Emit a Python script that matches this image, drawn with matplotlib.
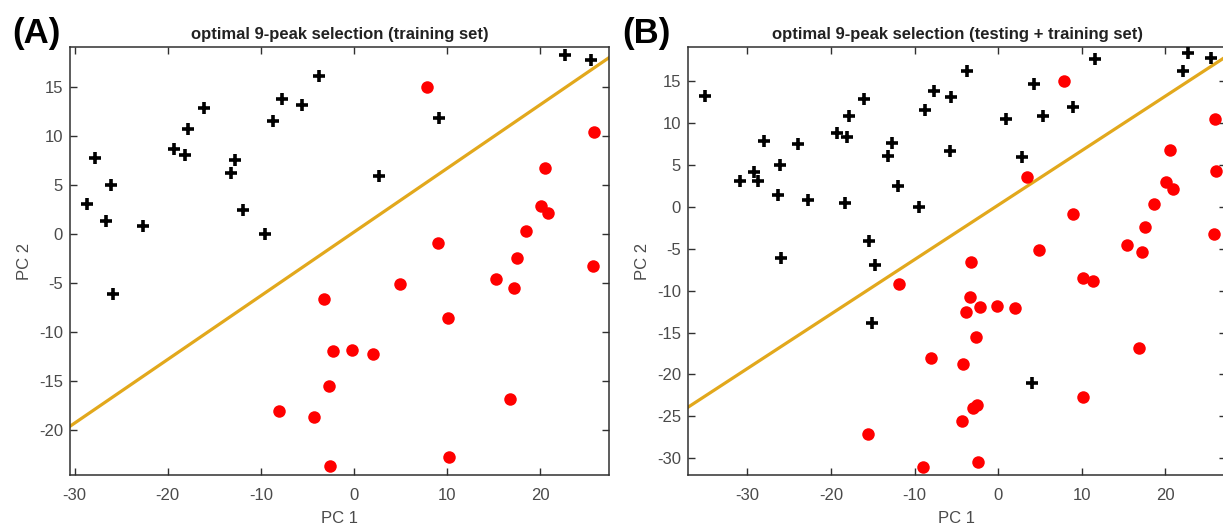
# %%
"""
    PCA scatter of 9-peak selection, training vs testing+training,
    with the linear decision boundary
"""

import matplotlib
matplotlib.use("Agg")
import matplotlib.pyplot as plt
import numpy as np

plt.rcParams["font.family"] = ["Liberation Sans", "DejaVu Sans"]
plt.rcParams["axes.unicode_minus"] = False   # MATLAB style hyphen minus

# %% data

### panel A - training set
A_cross_x = [-28.7, -27.8, -26.1, -26.6, -22.7, -19.3, -18.1, -17.8, -16.1, -13.2, -12.8,
             -11.9, -9.5, -8.7, -7.7, -5.6, -3.7, 9.1, 2.7, 22.7, 25.5, -25.9]
A_cross_y = [3.1, 7.8, 5.0, 1.3, 0.8, 8.7, 8.1, 10.7, 12.9, 6.2, 7.6,
             2.5, 0.0, 11.5, 13.8, 13.2, 16.1, 11.8, 5.9, 18.3, 17.8, -6.1]

A_dot_x = [7.8, 25.8, 20.5, 20.1, 20.8, 18.5, 9.0, 17.5, 25.7, 15.3, 17.2, 4.9,
           -3.2, 10.1, -2.3, -0.2, 2.0, -2.7, 16.8, -4.3, 10.2, -2.6, -8.0]
A_dot_y = [15.0, 10.4, 6.7, 2.9, 2.1, 0.3, -0.9, -2.4, -3.3, -4.6, -5.5, -5.1,
           -6.6, -8.6, -11.9, -11.8, -12.2, -15.5, -16.8, -18.7, -22.8, -23.7, -18.1]

### panel B - testing + training set
B_cross_x = [-35.1, -30.9, -29.2, -28.7, -28.0, -26.1, -26.3, -26.0, -24.0, -22.8, -19.3,
             -18.1, -17.8, -18.3, -16.1, -15.4, -14.7, -13.2, -12.7, -12.0, -9.5, -15.1,
             -3.7, -7.7, -5.7, -8.7, -5.8, 0.9, 4.3, 5.4, 2.8, 9.0, 11.6, 22.7, 22.1, 25.5, 4.1]
B_cross_y = [13.2, 3.1, 4.1, 3.1, 7.8, 5.0, 1.4, -6.1, 7.5, 0.8, 8.8,
             8.3, 10.8, 0.5, 12.9, -4.1, -7.0, 6.1, 7.6, 2.5, 0.0, -13.9,
             16.2, 13.8, 13.1, 11.5, 6.6, 10.5, 14.6, 10.8, 5.9, 11.9, 17.6, 18.3, 16.2, 17.8, -21.0]

B_dot_x = [7.9, 25.9, 20.5, 26.1, 20.1, 20.9, 18.6, 3.5, 9.0, 17.6, 25.8, 15.4, 17.2, 4.9,
           -3.2, 10.1, 11.4, -3.4, -2.2, -0.2, 2.0, -3.8, -2.6, 16.9, -8.0, -4.2, 10.2,
           -3.0, -2.5, -4.3, -2.4, -9.0, -11.9, -15.6]
B_dot_y = [15.0, 10.5, 6.8, 4.3, 2.9, 2.1, 0.3, 3.6, -0.9, -2.4, -3.3, -4.6, -5.4, -5.1,
           -6.6, -8.5, -8.8, -10.8, -11.9, -11.8, -12.1, -12.5, -15.5, -16.8, -18.0, -18.8, -22.7,
           -24.0, -23.7, -25.5, -30.4, -31.1, -9.2, -27.1]

### decision boundary  PC2 = slope*PC1 + intercept
boundary_slope = 0.65
boundary_intercept = 0.2

# %% plotting
W, H = 1223, 527
fig = plt.figure(figsize=(W/100, H/100), dpi=100)

def px_axes(left, top, right, bottom):
    return fig.add_axes([left/W, 1 - bottom/H, (right-left)/W, (bottom-top)/H])

axA = px_axes(70, 47, 609, 475)
axB = px_axes(688, 47, 1226, 475)

ax_color = "#303030"
line_color = "#E2A81C"

panels = [
    (axA, A_cross_x, A_cross_y, A_dot_x, A_dot_y, (-30.5, 27.4), (-24.6, 19.1),
     np.arange(-20, 16, 5), "optimal 9-peak selection (training set)", "(A)"),
    (axB, B_cross_x, B_cross_y, B_dot_x, B_dot_y, (-37.1, 27.25), (-32.0, 19.06),
     np.arange(-30, 16, 5), "optimal 9-peak selection (testing + training set)", "(B)"),
]

for ax, cx, cy, dx, dy, xlim, ylim, yticks, title, tag in panels:
    xs = np.array(xlim)
    ax.plot(xs, boundary_slope*xs + boundary_intercept, color=line_color, lw=2.3, zorder=1)
    ax.plot(cx, cy, "+", color="black", markersize=9, markeredgewidth=2.6, zorder=3)
    ax.plot(dx, dy, "o", color="red", markersize=9, markeredgewidth=0, zorder=3)

    ax.set_xlim(xlim)
    ax.set_ylim(ylim)
    ax.set_xticks(np.arange(-30, 21, 10))
    ax.set_yticks(yticks)

    ax.tick_params(direction="in", length=5, width=1, colors=ax_color,
                   labelsize=12, top=True, right=True)
    ax.tick_params(axis="x", pad=9)
    ax.tick_params(axis="y", pad=5)
    for lab in ax.get_xticklabels() + ax.get_yticklabels():
        lab.set_color("#4a4a4a")
    for sp in ax.spines.values():
        sp.set_color(ax_color)
        sp.set_linewidth(1.1)

    ax.set_xlabel("PC 1", fontsize=12, color="#4a4a4a", labelpad=6)
    ax.set_ylabel("PC 2", fontsize=12, color="#4a4a4a", labelpad=5)
    ax.set_title(title, fontsize=12, fontweight="bold", color="#222222", pad=6)

fig.text(12/W, 1 - 34/H, "(A)", fontsize=25, fontweight="bold", va="center", ha="left")
fig.text(622/W, 1 - 34/H, "(B)", fontsize=25, fontweight="bold", va="center", ha="left")

fig.savefig("out.png", dpi=100)
